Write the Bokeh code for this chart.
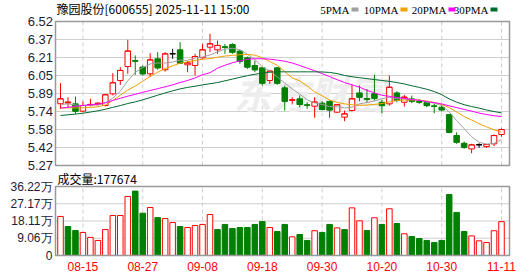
from bokeh.plotting import figure
from bokeh.models import Range1d, ColumnDataSource
from bokeh.embed import file_html
from bokeh.resources import INLINE
from bokeh.core.properties import value

# ---------------- data ----------------
title_text = "豫园股份[600655] 2025-11-11 15:00"
volume_title = "成交量:177674"
prev_close = 5.80

opens = [5.806, 5.812, 5.805, 5.742, 5.794, 5.800, 5.791, 5.892, 6.008, 6.129,
         6.181, 6.124, 6.066, 6.196, 6.101, 6.240, 6.274, 6.144, 6.138, 6.205,
         6.297, 6.274, 6.300, 6.320, 6.263, 6.205, 6.138, 6.118, 6.008, 6.118,
         5.944, 5.836, 5.849, 5.796, 5.785, 5.811, 5.826, 5.733, 5.690, 5.747,
         5.900, 5.852, 5.892, 5.819, 5.805, 5.900, 5.819, 5.848, 5.825, 5.816,
         5.787, 5.776, 5.712, 5.530, 5.463, 5.414, 5.450, 5.434, 5.458, 5.539]
highs = [5.985, 5.863, 5.869, 5.826, 5.849, 5.820, 5.892, 6.072, 6.124, 6.361,
         6.225, 6.138, 6.245, 6.254, 6.254, 6.283, 6.341, 6.176, 6.239, 6.326,
         6.413, 6.355, 6.326, 6.332, 6.274, 6.216, 6.181, 6.124, 6.101, 6.124,
         5.964, 5.863, 5.878, 5.820, 5.863, 5.829, 5.834, 5.805, 5.747, 5.973,
         5.964, 5.935, 6.059, 5.840, 6.051, 5.915, 5.883, 5.877, 5.842, 5.825,
         5.805, 5.805, 5.718, 5.559, 5.478, 5.458, 5.463, 5.458, 5.539, 5.594]
lows = [5.762, 5.776, 5.718, 5.733, 5.782, 5.791, 5.782, 5.878, 5.970, 6.066,
        6.057, 6.051, 6.037, 6.101, 6.086, 6.196, 6.153, 6.080, 6.051, 6.196,
        6.254, 6.239, 6.239, 6.239, 6.153, 6.109, 6.080, 5.964, 5.979, 5.970,
        5.747, 5.800, 5.776, 5.762, 5.684, 5.747, 5.684, 5.724, 5.655, 5.739,
        5.828, 5.819, 5.834, 5.724, 5.790, 5.819, 5.782, 5.811, 5.805, 5.776,
        5.724, 5.741, 5.550, 5.458, 5.414, 5.376, 5.423, 5.423, 5.440, 5.521]
closes = [5.849, 5.820, 5.742, 5.791, 5.800, 5.810, 5.884, 5.988, 6.095, 6.263,
          6.176, 6.066, 6.187, 6.118, 6.239, 6.240, 6.158, 6.160, 6.216, 6.274,
          6.326, 6.312, 6.297, 6.254, 6.176, 6.124, 6.101, 5.985, 6.089, 5.985,
          5.828, 5.840, 5.800, 5.794, 5.820, 5.756, 5.752, 5.797, 5.718, 5.849,
          5.863, 5.845, 5.854, 5.790, 5.949, 5.834, 5.863, 5.828, 5.820, 5.790,
          5.784, 5.753, 5.559, 5.472, 5.429, 5.449, 5.450, 5.452, 5.530, 5.582]
volumes = [205000, 152000, 131000, 121000, 95000, 79000, 136000, 210000, 210000, 310000,
           338000, 222000, 252000, 199000, 194000, 173000, 152000, 147000, 157000, 163000,
           215000, 136000, 163000, 142000, 147000, 147000, 163000, 178000, 147000, 126000,
           163000, 98000, 110000, 79000, 130000, 121000, 163000, 145000, 136000, 250000,
           182000, 131000, 198000, 163000, 245000, 168000, 114000, 100000, 89000, 79000,
           68000, 79000, 320000, 226000, 126000, 103000, 77000, 68000, 130000, 177674]
ma5 = [5.800, 5.805, 5.795, 5.790, 5.792, 5.795, 5.812, 5.855, 5.915, 6.005,
       6.080, 6.120, 6.152, 6.160, 6.160, 6.168, 6.185, 6.183, 6.203, 6.212,
       6.230, 6.256, 6.280, 6.288, 6.275, 6.236, 6.190, 6.126, 6.090, 6.040,
       5.985, 5.935, 5.890, 5.840, 5.814, 5.800, 5.782, 5.780, 5.770, 5.776,
       5.805, 5.817, 5.830, 5.850, 5.862, 5.850, 5.848, 5.840, 5.840, 5.820,
       5.812, 5.790, 5.735, 5.660, 5.590, 5.520, 5.472, 5.455, 5.462, 5.495]
ma10 = [5.771, 5.770, 5.770, 5.771, 5.774, 5.780, 5.795, 5.835, 5.880, 5.925,
        5.960, 6.000, 6.045, 6.080, 6.112, 6.135, 6.158, 6.170, 6.182, 6.192,
        6.198, 6.210, 6.220, 6.226, 6.232, 6.234, 6.228, 6.205, 6.172, 6.140,
        6.085, 6.030, 6.005, 5.960, 5.910, 5.875, 5.838, 5.818, 5.805, 5.797,
        5.792, 5.795, 5.800, 5.808, 5.822, 5.834, 5.838, 5.840, 5.838, 5.830,
        5.818, 5.800, 5.773, 5.735, 5.695, 5.665, 5.633, 5.605, 5.580, 5.559]
ma20 = [5.768, 5.775, 5.783, 5.791, 5.797, 5.803, 5.815, 5.835, 5.853, 5.872,
        5.888, 5.905, 5.921, 5.937, 5.953, 5.970, 5.990, 6.008, 6.030, 6.058,
        6.075, 6.115, 6.140, 6.162, 6.178, 6.192, 6.197, 6.197, 6.193, 6.185,
        6.175, 6.160, 6.138, 6.115, 6.093, 6.068, 6.042, 6.015, 5.990, 5.970,
        5.950, 5.922, 5.900, 5.880, 5.870, 5.860, 5.852, 5.843, 5.836, 5.825,
        5.815, 5.805, 5.788, 5.773, 5.757, 5.742, 5.725, 5.712, 5.702, 5.695]
ma30 = [5.704, 5.710, 5.716, 5.724, 5.734, 5.745, 5.758, 5.775, 5.790, 5.808,
        5.822, 5.840, 5.860, 5.880, 5.900, 5.918, 5.935, 5.948, 5.958, 5.970,
        5.980, 5.990, 6.005, 6.020, 6.035, 6.050, 6.062, 6.072, 6.080, 6.083,
        6.083, 6.083, 6.083, 6.083, 6.083, 6.082, 6.078, 6.068, 6.052, 6.040,
        6.032, 6.024, 6.016, 6.008, 6.000, 5.990, 5.978, 5.962, 5.948, 5.932,
        5.912, 5.885, 5.848, 5.820, 5.798, 5.782, 5.768, 5.752, 5.738, 5.727]

price_ticks = [5.27 + k * 0.15625 for k in range(9)]
price_labels = ["5.27", "5.42", "5.58", "5.74", "5.89", "6.05", "6.21", "6.37", "6.52"]
vol_ticks = [0, 90550, 181100, 271650, 362200]
vol_labels = ["0", "9.06万", "18.11万", "27.17万", "36.22万"]
date_ticks = [3, 11, 19, 27, 35, 43, 51, 59]
date_labels = ["08-15", "08-27", "09-08", "09-18", "09-30", "10-20", "10-30", "11-11"]
ma_names = ["5PMA", "10PMA", "20PMA", "30PMA"]
ma_colors = ["#a0a0a0", "#f0a000", "#ff00ff", "#006a30"]

# ---------------- layout geometry (pixels of the 530x276 canvas) ----------------
W, H = 530, 276
RED = "#ff0000"
GREEN = "#008000"
GRID = "#cfcfcf"
BORDER = "#999999"
LABEL_COLOR = "#1c1c38"

X0, X1 = -0.67, 60.07            # data range of the plot panels
PPU = 454.0 / (X1 - X0)          # pixels per bar
XL = X0 - 55 / PPU               # canvas left
XR = X1 + (W - 509) / PPU        # canvas right

P_TOP_PX, P_BOT_PX = 21, 165     # price panel
P_HI, P_LO = 6.52, 5.27
PPX = (P_TOP_PX - P_BOT_PX) / (P_HI - P_LO)      # px per price unit (negative)
V_TOP_PX, V_BOT_PX = 186, 255    # volume panel
V_HI = 362200
VPX = (V_TOP_PX - V_BOT_PX) / V_HI


def px_x(px):
    return XL + px / PPU


def px_price(py):
    return P_LO + (py - P_BOT_PX) / PPX


def px_vol(py):
    return (py - V_BOT_PX) / VPX


n = len(closes)
idx = list(range(n))
cc = [RED if c > o else (GREEN if c < o else "#000000") for o, c in zip(opens, closes)]
fill = [("white" if col == RED else col) for col in cc]
prevs = [prev_close] + closes[:-1]
vc = [(RED if c >= pc else GREEN) for c, pc in zip(closes, prevs)]
vfill = [("white" if col == RED else col) for col in vc]

src = ColumnDataSource(dict(
    x=idx, o=opens, h=highs, l=lows, c=closes,
    top=[max(a, b) for a, b in zip(opens, closes)],
    bot=[min(a, b) for a, b in zip(opens, closes)],
    x0=[i - 0.37 for i in idx], x1=[i + 0.37 for i in idx],
    col=cc, fill=fill, vol=volumes, vcol=vc, vfill=vfill,
))

p = figure(width=W, height=H, x_range=Range1d(XL, XR),
           y_range=Range1d(px_price(H), px_price(0)),
           output_backend="svg", toolbar_location=None,
           x_axis_location=None, y_axis_location=None,
           min_border_left=0, min_border_right=0, min_border_top=0, min_border_bottom=0)
p.extra_y_ranges = {"vol": Range1d(px_vol(H), px_vol(0))}
p.background_fill_color = "white"
p.border_fill_color = "white"
p.outline_line_color = None
p.xgrid.visible = False
p.ygrid.visible = False

# grid lines
inner_p = price_ticks[1:-1]
p.segment(x0=[X0] * len(inner_p), x1=[X1] * len(inner_p), y0=inner_p, y1=inner_p,
          line_color=GRID, line_width=1)
inner_v = vol_ticks[1:-1]
p.segment(x0=[X0] * len(inner_v), x1=[X1] * len(inner_v), y0=inner_v, y1=inner_v,
          line_color=GRID, line_width=1, y_range_name="vol")
p.segment(x0=date_ticks, x1=date_ticks, y0=[P_LO] * len(date_ticks), y1=[P_HI] * len(date_ticks),
          line_color=GRID, line_dash="4 3", line_width=1)
p.segment(x0=date_ticks, x1=date_ticks, y0=[0] * len(date_ticks), y1=[V_HI] * len(date_ticks),
          line_color=GRID, line_dash="4 3", line_width=1, y_range_name="vol")

# watermark
p.text(x=[px_x(233)], y=[px_price(92)], text=["东方财富"], text_font=value("Noto Sans CJK SC"),
       text_font_size="38px", text_font_style="bold italic", text_color="#ededed",
       text_baseline="middle", text_align="left")

# candles
p.segment(x0="x", y0="h", x1="x", y1="l", line_color="col", line_width=1, source=src)
p.vbar(x="x", top="top", bottom="bot", width=0.74, fill_color="fill",
       line_color="col", line_width=1, source=src)
p.segment(x0="x0", y0="c", x1="x1", y1="c", line_color="col", line_width=1, source=src)

# moving averages
for ser, colr in zip([ma5, ma10, ma20, ma30], ma_colors):
    p.line(idx, ser, line_color=colr, line_width=1)

# volume bars
p.vbar(x="x", top="vol", bottom=0, width=0.74, fill_color="vfill",
       line_color="vcol", line_width=1, source=src, y_range_name="vol")

# panel borders
p.quad(left=[X0], right=[X1], bottom=[P_LO], top=[P_HI], fill_color=None,
       line_color=BORDER, line_width=1.5)
p.quad(left=[X0], right=[X1], bottom=[0], top=[V_HI], fill_color=None,
       line_color=BORDER, line_width=1.5, y_range_name="vol")

# tick labels
p.text(x=[px_x(52.5)] * len(price_ticks), y=price_ticks, text=price_labels,
       text_font=value("Liberation Sans"), text_font_size="13px", text_color=LABEL_COLOR,
       text_align="right", text_baseline="middle")
p.text(x=[px_x(52)] * len(vol_ticks), y=vol_ticks, text=vol_labels,
       text_font=value("Liberation Sans"), text_font_size="12px", text_color=LABEL_COLOR,
       text_align="right", text_baseline="middle", y_range_name="vol")
p.text(x=date_ticks, y=[px_vol(266)] * len(date_ticks), text=date_labels,
       text_font=value("Liberation Sans"), text_font_size="12px", text_color=RED,
       text_align="center", text_baseline="middle", y_range_name="vol")

# header texts
p.text(x=[px_x(56)], y=[px_price(8)], text=[title_text], text_font=value("Noto Sans CJK SC"),
       text_font_size="12px", text_color="#000000", text_align="left", text_baseline="middle")
legend_right = [349, 398, 446, 488]
square_mid = [354.5, 403.5, 451.5, 493.5]
p.text(x=[px_x(v) for v in legend_right], y=[px_price(9)] * 4, text=ma_names,
       text_font=value("Liberation Serif"), text_font_size="11px", text_color="#000000",
       text_align="right", text_baseline="middle")
p.rect(x=[px_x(v) for v in square_mid], y=[px_price(9)] * 4, width=7, height=4,
       width_units="screen", height_units="screen", fill_color=ma_colors, line_color=None)

p.text(x=[px_x(57)], y=[px_vol(178)], text=[volume_title], text_font=value("Noto Sans CJK SC"),
       text_font_size="12px", text_color="#000000", text_align="left", text_baseline="middle",
       y_range_name="vol")

open("out.html", "w").write(file_html(p, INLINE))
